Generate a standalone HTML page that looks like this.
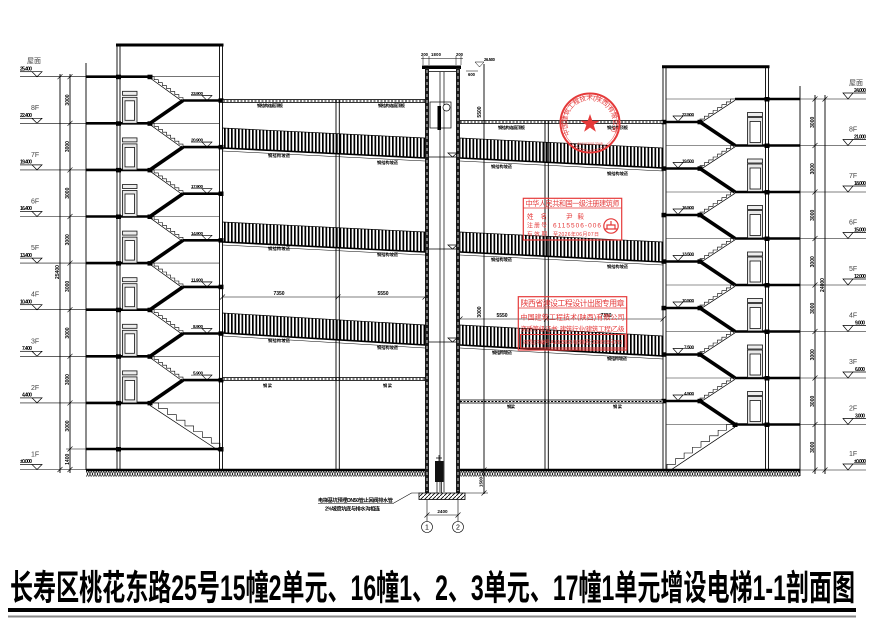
<!DOCTYPE html>
<html><head><meta charset="utf-8"><style>
html,body{margin:0;padding:0;background:#fff;}
svg{display:block;}
text{font-family:"Liberation Sans","Noto Sans CJK SC",sans-serif;}
</style></head><body>
<svg width="879" height="635" viewBox="0 0 879 635" xmlns="http://www.w3.org/2000/svg">
<defs>
<pattern id="vh" width="3.5" height="10" patternUnits="userSpaceOnUse"><rect width="1.7" height="10" fill="#000"/></pattern>
<pattern id="gx" width="5" height="6" patternUnits="userSpaceOnUse"><path d="M0,0L2.5,6L5,0M0,6L2.5,0L5,6" stroke="#000" stroke-width="0.6" fill="none"/></pattern>
<pattern id="dg" width="4" height="4" patternUnits="userSpaceOnUse"><path d="M0,4L4,0" stroke="#000" stroke-width="0.8"/></pattern>
<g id="stL">
<polyline points="0,0 4.1,0 4.1,3 8.3,3 8.3,6 12.4,6 12.4,8.9 16.5,8.9 16.5,11.9 20.6,11.9 20.6,14.9 24.8,14.9 24.8,17.9 28.9,17.9 28.9,20.8 33,20.8 33,23.8" fill="none" stroke="#000" stroke-width="0.6" vector-effect="non-scaling-stroke"/>
<line x1="0" y1="1.3" x2="33" y2="25.1" stroke="#000" stroke-width="0.7" vector-effect="non-scaling-stroke"/>
</g>
<g id="stR">
<polyline points="0,0 0,-2.9 4.4,-2.9 4.4,-5.8 8.8,-5.8 8.8,-8.6 13.1,-8.6 13.1,-11.5 17.5,-11.5 17.5,-14.4 21.9,-14.4 21.9,-17.3 26.3,-17.3 26.3,-20.1 30.6,-20.1 30.6,-23 35,-23" fill="none" stroke="#000" stroke-width="0.6" vector-effect="non-scaling-stroke"/>
<line x1="0" y1="1.3" x2="35" y2="-21.7" stroke="#000" stroke-width="0.7" vector-effect="non-scaling-stroke"/>
</g>
<g id="LF">
<line x1="86" y1="0" x2="150" y2="0" stroke="#000" stroke-width="2.6"/>
<line x1="150" y1="0" x2="219" y2="0" stroke="#222" stroke-width="0.6"/>
<use href="#stL" x="150" y="0"/>
<line x1="183" y1="23.8" x2="223" y2="23.8" stroke="#000" stroke-width="2.6"/>
<line x1="183" y1="23.8" x2="150" y2="46.6" stroke="#000" stroke-width="3.6"/>
<rect x="116" y="-2" width="5" height="4.5" fill="#000"/>
<rect x="147.5" y="-2" width="5" height="4.5" fill="#000"/>
<rect x="218.5" y="21.6" width="5" height="4.5" fill="#000"/>
<path d="M202,18.8h10l-5,5z" fill="none" stroke="#000" stroke-width="0.6"/>
<line x1="191" y1="18.8" x2="212" y2="18.8" stroke="#000" stroke-width="0.5"/>
</g>
<g id="RF">
<line x1="663" y1="23" x2="700" y2="23" stroke="#000" stroke-width="2.6"/>
<use href="#stR" x="700" y="23"/>
<line x1="700" y1="23" x2="735" y2="46.5" stroke="#000" stroke-width="3.6"/>
<line x1="735" y1="0" x2="800" y2="0" stroke="#000" stroke-width="2.6"/>
<line x1="666" y1="0" x2="735" y2="0" stroke="#222" stroke-width="0.6"/>
<rect x="661.5" y="20.8" width="5" height="4.5" fill="#000"/>
<rect x="697.5" y="20.8" width="5" height="4.5" fill="#000"/>
<rect x="764.5" y="-2" width="5" height="4.5" fill="#000"/>
<path d="M673,17h10l-5,5.5z" fill="none" stroke="#000" stroke-width="0.6"/>
<line x1="673" y1="17" x2="694" y2="17" stroke="#000" stroke-width="0.5"/>
</g>
<g id="LD" stroke="#111" stroke-width="0.8">
<rect x="122.5" y="-32" width="14.5" height="4" fill="#eee"/>
<rect x="122.5" y="-26" width="14.5" height="26" fill="#e8e8e8"/>
<rect x="125" y="-22.5" width="9.5" height="19.5" fill="#fff"/>
</g>
<g id="RD" stroke="#111" stroke-width="0.8">
<rect x="747.5" y="-33" width="15" height="4" fill="#eee"/>
<rect x="747.5" y="-28" width="15" height="27.5" fill="#e8e8e8"/>
<rect x="750" y="-24" width="10.5" height="21" fill="#fff"/>
</g>
<path id="arc" d="M570.1,134.5 A23,23 0 1 1 609.9,134.5"/>
</defs>

<rect width="879" height="635" fill="#fff"/>

<!-- ===== LEFT BUILDING ===== -->
<line x1="116" y1="45" x2="223.5" y2="45" stroke="#000" stroke-width="3"/>
<g stroke="#000" stroke-width="0.9">
<line x1="117" y1="44" x2="117" y2="470"/><line x1="120" y1="44" x2="120" y2="470"/>
<line x1="219.5" y1="44" x2="219.5" y2="470"/><line x1="222.5" y1="44" x2="222.5" y2="470"/>
<line x1="86" y1="63" x2="86" y2="470"/>
<line x1="60" y1="74" x2="60" y2="473"/>
<line x1="70" y1="74" x2="70" y2="473"/>
</g>
<use href="#LF" y="76.7"/><use href="#LF" y="123.3"/><use href="#LF" y="169.9"/><use href="#LF" y="216.5"/>
<use href="#LF" y="263.1"/><use href="#LF" y="309.7"/><use href="#LF" y="356.3"/>
<line x1="86" y1="402.9" x2="150" y2="402.9" stroke="#000" stroke-width="2.6"/>
<line x1="150" y1="402.9" x2="219" y2="402.9" stroke="#222" stroke-width="0.6"/>
<use href="#stL" transform="translate(150,402.9) scale(2.12,1.937)"/>
<rect x="116" y="400.9" width="5" height="4.5"/><rect x="147.5" y="400.9" width="5" height="4.5"/>
<line x1="86" y1="449" x2="223" y2="449" stroke="#000" stroke-width="2.6"/>
<rect x="116" y="447" width="5" height="4.5"/><rect x="218.5" y="447" width="5" height="4.5"/>
<use href="#LD" y="123.3"/><use href="#LD" y="169.9"/><use href="#LD" y="216.5"/><use href="#LD" y="263.1"/>
<use href="#LD" y="309.7"/><use href="#LD" y="356.3"/><use href="#LD" y="402.9"/>

<g stroke="#000" stroke-width="0.6">
<line x1="20" y1="76.7" x2="86" y2="76.7"/><line x1="20" y1="123.3" x2="86" y2="123.3"/>
<line x1="20" y1="169.9" x2="86" y2="169.9"/><line x1="20" y1="216.5" x2="86" y2="216.5"/>
<line x1="20" y1="263.1" x2="86" y2="263.1"/><line x1="20" y1="309.7" x2="86" y2="309.7"/>
<line x1="20" y1="356.3" x2="86" y2="356.3"/><line x1="20" y1="402.9" x2="86" y2="402.9"/>
<line x1="20" y1="469.5" x2="86" y2="469.5"/><line x1="66" y1="449" x2="86" y2="449"/>
</g>
<g fill="none" stroke="#000" stroke-width="0.7">
<path d="M32,71.7h10l-5,5z"/><path d="M32,118.3h10l-5,5z"/><path d="M32,164.9h10l-5,5z"/><path d="M32,211.5h10l-5,5z"/>
<path d="M32,258.1h10l-5,5z"/><path d="M32,304.7h10l-5,5z"/><path d="M32,351.3h10l-5,5z"/><path d="M32,397.9h10l-5,5z"/>
<path d="M32,464.5h10l-5,5z"/>
<line x1="20" y1="71.7" x2="32" y2="71.7"/><line x1="20" y1="118.3" x2="32" y2="118.3"/><line x1="20" y1="164.9" x2="32" y2="164.9"/>
<line x1="20" y1="211.5" x2="32" y2="211.5"/><line x1="20" y1="258.1" x2="32" y2="258.1"/><line x1="20" y1="304.7" x2="32" y2="304.7"/>
<line x1="20" y1="351.3" x2="32" y2="351.3"/><line x1="20" y1="397.9" x2="32" y2="397.9"/><line x1="20" y1="464.5" x2="32" y2="464.5"/>
</g>
<g font-size="5" font-weight="bold" fill="#000">
<text x="20" y="70.5" textLength="12">25.400</text><text x="20" y="117" textLength="12">22.400</text>
<text x="20" y="163.6" textLength="12">19.400</text><text x="20" y="210.2" textLength="12">16.400</text>
<text x="20" y="256.8" textLength="12">13.400</text><text x="20" y="303.4" textLength="12">10.400</text>
<text x="22" y="350" textLength="10">7.400</text><text x="22" y="396.6" textLength="10">4.400</text>
<text x="20" y="463.2" textLength="12">±0.000</text>
</g>
<g font-size="7" fill="#444">
<text x="27" y="63">屋面</text><text x="31" y="110">8F</text><text x="31" y="156.9">7F</text><text x="31" y="203.5">6F</text>
<text x="31" y="250.1">5F</text><text x="31" y="296.7">4F</text><text x="31" y="343.3">3F</text><text x="31" y="389.9">2F</text>
<text x="31" y="456.5">1F</text>
</g>
<g stroke="#000" stroke-width="0.6">
<path d="M67.5,79.2l5,-5M67.5,125.8l5,-5M67.5,172.4l5,-5M67.5,219l5,-5M67.5,265.6l5,-5M67.5,312.2l5,-5M67.5,358.8l5,-5M67.5,405.4l5,-5M67.5,451.5l5,-5M67.5,472l5,-5M57.5,79.2l5,-5M57.5,472l5,-5"/>
</g>
<g font-size="5" font-weight="bold" fill="#000" text-anchor="middle">
<text transform="translate(69,100) rotate(-90)">3000</text><text transform="translate(69,146.6) rotate(-90)">3000</text>
<text transform="translate(69,193.2) rotate(-90)">3000</text><text transform="translate(69,239.8) rotate(-90)">3000</text>
<text transform="translate(69,286.4) rotate(-90)">3000</text><text transform="translate(69,333) rotate(-90)">3000</text>
<text transform="translate(69,379.6) rotate(-90)">3000</text><text transform="translate(69,426) rotate(-90)">3000</text>
<text transform="translate(69,459.3) rotate(-90)">1400</text><text transform="translate(59,272) rotate(-90)">25400</text>
</g>
<g font-size="4.6" font-weight="bold" fill="#000">
<text x="191" y="95" textLength="12">23.900</text><text x="191" y="141.6" textLength="12">20.900</text>
<text x="191" y="188.2" textLength="12">17.900</text><text x="191" y="234.8" textLength="12">14.900</text>
<text x="191" y="281.4" textLength="12">11.900</text><text x="193" y="328" textLength="10">8.900</text>
<text x="193" y="374.6" textLength="10">5.900</text>
</g>

<!-- ===== RIGHT BUILDING ===== -->
<line x1="662" y1="66.7" x2="769.5" y2="66.7" stroke="#000" stroke-width="3"/>
<g stroke="#000" stroke-width="0.9">
<line x1="663" y1="66" x2="663" y2="470"/><line x1="666" y1="66" x2="666" y2="470"/>
<line x1="765.5" y1="66" x2="765.5" y2="470"/><line x1="768.5" y1="66" x2="768.5" y2="470"/>
<line x1="800" y1="86" x2="800" y2="476"/>
<line x1="815" y1="95" x2="815" y2="474"/>
<line x1="825" y1="95" x2="825" y2="474"/>
</g>
<use href="#RF" y="99"/><use href="#RF" y="145.5"/><use href="#RF" y="192"/><use href="#RF" y="238.5"/>
<use href="#RF" y="285"/><use href="#RF" y="331.5"/><use href="#RF" y="378"/>
<line x1="735" y1="424.5" x2="800" y2="424.5" stroke="#000" stroke-width="2.6"/>
<line x1="666" y1="424.5" x2="735" y2="424.5" stroke="#222" stroke-width="0.6"/>
<rect x="764.5" y="422.5" width="5" height="4.5"/><rect x="732.5" y="422.5" width="5" height="4.5"/>
<use href="#stR" transform="translate(667,470) scale(1.943,1.978)"/>
<use href="#RD" y="145.5"/><use href="#RD" y="192"/><use href="#RD" y="238.5"/><use href="#RD" y="285"/>
<use href="#RD" y="331.5"/><use href="#RD" y="378"/><use href="#RD" y="424.5"/>
<g stroke="#000" stroke-width="0.6">
<line x1="800" y1="99" x2="866" y2="99"/><line x1="800" y1="145.5" x2="866" y2="145.5"/><line x1="800" y1="192" x2="866" y2="192"/>
<line x1="800" y1="238.5" x2="866" y2="238.5"/><line x1="800" y1="285" x2="866" y2="285"/><line x1="800" y1="331.5" x2="866" y2="331.5"/>
<line x1="800" y1="378" x2="866" y2="378"/><line x1="800" y1="424.5" x2="866" y2="424.5"/><line x1="800" y1="470" x2="866" y2="470"/>
<path d="M812.5,101.5l5,-5M812.5,148l5,-5M812.5,194.5l5,-5M812.5,241l5,-5M812.5,287.5l5,-5M812.5,334l5,-5M812.5,380.5l5,-5M812.5,427l5,-5M812.5,472.5l5,-5M822.5,101.5l5,-5M822.5,472.5l5,-5"/>
</g>
<g fill="none" stroke="#000" stroke-width="0.7">
<path d="M843,93h10l-5,6z"/><path d="M843,139.5h10l-5,6z"/><path d="M843,186h10l-5,6z"/><path d="M843,232.5h10l-5,6z"/>
<path d="M843,279h10l-5,6z"/><path d="M843,325.5h10l-5,6z"/><path d="M843,372h10l-5,6z"/><path d="M843,418.5h10l-5,6z"/>
<path d="M843,464h10l-5,6z"/>
<path d="M853,93h13M853,139.5h13M853,186h13M853,232.5h13M853,279h13M853,325.5h13M853,372h13M853,418.5h13M853,464h13"/>
</g>
<g font-size="5" font-weight="bold" fill="#000">
<text x="854" y="92" textLength="12">24.000</text><text x="854" y="138.5" textLength="12">21.000</text>
<text x="854" y="185" textLength="12">18.000</text><text x="854" y="231.5" textLength="12">15.000</text>
<text x="854" y="278" textLength="12">12.000</text><text x="855" y="324.5" textLength="10">9.000</text>
<text x="855" y="371" textLength="10">6.000</text><text x="855" y="417.5" textLength="10">3.000</text>
<text x="854" y="463" textLength="12">±0.000</text>
</g>
<g font-size="7" fill="#444">
<text x="849" y="85">屋面</text><text x="849" y="131.5">8F</text><text x="849" y="178">7F</text><text x="849" y="224.5">6F</text>
<text x="849" y="271">5F</text><text x="849" y="317.5">4F</text><text x="849" y="364">3F</text><text x="849" y="410.5">2F</text>
<text x="849" y="456">1F</text>
</g>
<g font-size="5" font-weight="bold" fill="#000" text-anchor="middle">
<text transform="translate(814,122.3) rotate(-90)">3000</text><text transform="translate(814,168.8) rotate(-90)">3000</text>
<text transform="translate(814,215.3) rotate(-90)">3000</text><text transform="translate(814,261.8) rotate(-90)">3000</text>
<text transform="translate(814,308.3) rotate(-90)">3000</text><text transform="translate(814,354.8) rotate(-90)">3000</text>
<text transform="translate(814,401.3) rotate(-90)">3000</text><text transform="translate(814,447.3) rotate(-90)">3000</text>
<text transform="translate(824,285) rotate(-90)">24000</text>
</g>
<g font-size="4.6" font-weight="bold" fill="#000">
<text x="682" y="116" textLength="12">22.500</text><text x="682" y="162.5" textLength="12">19.500</text>
<text x="682" y="209" textLength="12">16.500</text><text x="682" y="255.5" textLength="12">13.500</text>
<text x="682" y="302" textLength="12">10.500</text><text x="684" y="348.5" textLength="10">7.500</text>
<text x="684" y="395" textLength="10">4.500</text>
</g>

<!-- ===== CORRIDORS ===== -->
<g stroke="#000" stroke-width="0.7">
<polygon points="222.5,128 425,138 425,158 222.5,148" fill="url(#vh)"/>
<polygon points="222.5,222 425,232 425,252 222.5,242" fill="url(#vh)"/>
<polygon points="222.5,313 425,325 425,345 222.5,333" fill="url(#vh)"/>
<polygon points="460,138 663,148 663,168 460,158" fill="url(#vh)"/>
<polygon points="460,232 663,242 663,262 460,252" fill="url(#vh)"/>
<polygon points="460,325 663,336 663,356 460,345" fill="url(#vh)"/>
</g>
<g stroke="#000" stroke-width="1.6">
<line x1="222.5" y1="148" x2="425" y2="158"/><line x1="222.5" y1="242" x2="425" y2="252"/><line x1="222.5" y1="333" x2="425" y2="345"/>
<line x1="460" y1="158" x2="663" y2="168"/><line x1="460" y1="252" x2="663" y2="262"/><line x1="460" y1="345" x2="663" y2="356"/>
</g>
<g stroke="#000" stroke-width="0.5">
<line x1="222.5" y1="151" x2="425" y2="161"/><line x1="222.5" y1="245" x2="425" y2="255"/><line x1="222.5" y1="336" x2="425" y2="348"/>
<line x1="460" y1="161" x2="663" y2="171"/><line x1="460" y1="255" x2="663" y2="265"/><line x1="460" y1="348" x2="663" y2="359"/>
</g>
<g>
<rect x="222.5" y="99.5" width="202.5" height="3" fill="#fff" stroke="#000" stroke-width="0.8"/>
<rect x="222.5" y="377.5" width="202.5" height="3" fill="#fff" stroke="#000" stroke-width="0.8"/>
<rect x="460" y="120.5" width="203" height="3" fill="#fff" stroke="#000" stroke-width="0.8"/>
<rect x="460" y="400" width="203" height="3" fill="#fff" stroke="#000" stroke-width="0.8"/>
<g stroke="#000" stroke-width="1" stroke-dasharray="2,1.5">
<line x1="223" y1="101" x2="425" y2="101"/><line x1="223" y1="379" x2="425" y2="379"/>
<line x1="460" y1="122" x2="663" y2="122"/><line x1="460" y1="401.5" x2="663" y2="401.5"/>
</g>
</g>
<g stroke="#000" stroke-width="0.9">
<line x1="336" y1="100" x2="336" y2="470"/><line x1="339.3" y1="100" x2="339.3" y2="470"/>
<line x1="545" y1="121" x2="545" y2="470"/><line x1="548.3" y1="121" x2="548.3" y2="470"/>
<line x1="484" y1="64" x2="484" y2="494"/>
</g>
<g stroke="#000" stroke-width="0.6">
<line x1="222.5" y1="297" x2="425" y2="297"/><line x1="460" y1="319" x2="663" y2="319"/>
<path d="M220,299.5l5,-5M335.5,299.5l5,-5M422.5,299.5l5,-5M457.5,321.5l5,-5M544,321.5l5,-5M660.5,321.5l5,-5"/>
</g>
<g font-size="5" font-weight="bold" fill="#000" text-anchor="middle">
<text x="279" y="295">7350</text><text x="383" y="295">5550</text>
<text x="502" y="317">5550</text><text x="606" y="317">7350</text>
<text transform="translate(481,112) rotate(-90)">5500</text>
<text transform="translate(481,312) rotate(-90)">3000</text>
</g>
<g font-size="4.2" font-weight="bold" fill="#000">
<text x="257" y="107" textLength="26">钢结构连廊顶板</text><text x="378" y="107" textLength="27">钢结构连廊顶板</text>
<text x="268" y="157" textLength="22">钢结构坡道</text><text x="377" y="164" textLength="21">钢结构坡道</text>
<text x="268" y="250" textLength="22">钢结构坡道</text><text x="377" y="256" textLength="21">钢结构坡道</text>
<text x="268" y="342" textLength="22">钢结构坡道</text><text x="377" y="349" textLength="21">钢结构坡道</text>
<text x="263" y="387" textLength="9">钢梁</text><text x="383" y="387" textLength="9">钢梁</text>
<text x="498" y="129" textLength="27">钢结构连廊顶板</text><text x="607" y="129" textLength="21">钢结构顶板</text>
<text x="491" y="168" textLength="21">钢结构坡道</text><text x="607" y="175" textLength="21">钢结构坡道</text>
<text x="491" y="261" textLength="21">钢结构坡道</text><text x="607" y="268" textLength="21">钢结构坡道</text>
<text x="492" y="354" textLength="20">钢结构坡道</text><text x="607" y="360" textLength="20">钢结构坡道</text>
<text x="507" y="408" textLength="8">钢梁</text><text x="613" y="408" textLength="9">钢梁</text>
</g>

<!-- ===== ELEVATOR SHAFT ===== -->
<rect x="422" y="65.5" width="39" height="3.5" fill="#000"/>
<line x1="429" y1="71.5" x2="456" y2="71.5" stroke="#000" stroke-width="0.8"/>
<rect x="425" y="68" width="4" height="425" fill="#1a1a1a"/>
<rect x="456" y="68" width="4" height="425" fill="#1a1a1a"/>
<g stroke="#fff" stroke-width="0.8" stroke-dasharray="3,3">
<line x1="427" y1="70" x2="427" y2="491"/><line x1="458" y1="70" x2="458" y2="491"/>
</g>
<g stroke="#000" stroke-width="0.7">
<line x1="440" y1="72" x2="440" y2="492"/><line x1="444" y1="72" x2="444" y2="492"/>
<line x1="429" y1="157" x2="456" y2="157"/><line x1="429" y1="249" x2="456" y2="249"/><line x1="429" y1="342" x2="456" y2="342"/>
<path d="M448,153h9l-4.5,4z M448,245h9l-4.5,4z M448,338h9l-4.5,4z" fill="none"/>
<rect x="430" y="102" width="21" height="26" fill="none"/>
<circle cx="446.5" cy="107.5" r="3.5" fill="#fff"/>
</g>
<rect x="437.5" y="106" width="3.5" height="24" fill="#000"/>
<rect x="435" y="461" width="8.5" height="21" fill="#111"/>
<path d="M436,458h6M439,455v6M437,482v11M441.5,482v11" stroke="#000" stroke-width="0.7"/>
<rect x="419" y="493" width="46" height="6.5" fill="url(#dg)" stroke="#000" stroke-width="0.8"/>
<g stroke="#000" stroke-width="0.5">
<line x1="421" y1="58.5" x2="463" y2="58.5"/>
<path d="M423,56v9M429,56v9M456,56v9M461,56v9"/>
<path d="M475,62h9l-4.5,5z" fill="none"/><line x1="466" y1="71" x2="478" y2="71"/>
</g>
<g font-size="4.2" font-weight="bold" fill="#000">
<text x="421" y="56" textLength="7">200</text><text x="431" y="56" textLength="10">1800</text><text x="456" y="56" textLength="7">200</text>
<text x="484" y="61" textLength="11">26.500</text><text x="468" y="76" textLength="7">600</text>
</g>

<rect x="86" y="471" width="339" height="5.5" fill="url(#gx)"/>
<rect x="460" y="471" width="340" height="5.5" fill="url(#gx)"/>
<line x1="86" y1="470" x2="425" y2="470" stroke="#000" stroke-width="2.4"/>
<line x1="460" y1="470" x2="800" y2="470" stroke="#000" stroke-width="2.4"/>

<g stroke="#000" stroke-width="0.6" fill="none">
<path d="M318,503.5H393L411.5,493H419"/>
<line x1="465" y1="493" x2="488" y2="493"/>
<line x1="427" y1="500" x2="427" y2="521.5"/><line x1="458" y1="500" x2="458" y2="521.5"/>
<line x1="427" y1="515" x2="458" y2="515"/>
<path d="M424.5,517.5l5,-5M455.5,517.5l5,-5M481.5,472.5l5,-5M481.5,495.5l5,-5"/>
<circle cx="427" cy="527" r="5.5"/><circle cx="458" cy="527" r="5.5"/>
</g>
<g fill="#000" font-weight="bold">
<text x="318" y="502" font-size="5.2" textLength="75">电梯基坑预埋DN50管止回阀排水管</text>
<text x="325" y="510.5" font-size="5.2" textLength="55">2%坡度坑底与排水沟相连</text>
<text x="442.5" y="513" font-size="4.6" text-anchor="middle">2400</text>
<text transform="translate(482.5,482) rotate(-90)" font-size="4.6" text-anchor="middle">1500</text>
</g>
<g font-size="7" fill="#000" text-anchor="middle">
<text x="427" y="529.5">1</text><text x="458" y="529.5">2</text>
</g>

<!-- ===== RED STAMPS ===== -->
<g fill="none" stroke="#e53a3a">
<circle cx="590" cy="123" r="29.5" stroke-width="2"/>
<circle cx="590" cy="123" r="27.3" stroke-width="0.5"/>
<rect x="523.3" y="198.3" width="98.4" height="41.7" stroke-width="1.2"/>
<line x1="523.3" y1="208" x2="621.7" y2="208" stroke-width="0.8"/>
<circle cx="611" cy="226" r="7.2" stroke-width="1.2"/>
<rect x="518.3" y="296.7" width="108.4" height="53.3" stroke-width="1.2"/>
<line x1="518.3" y1="308" x2="626.7" y2="308" stroke-width="0.8"/>
<rect x="520.5" y="334.5" width="104.5" height="13.5" stroke-width="1"/>
</g>
<polygon points="590,114 592.3,120.8 599.5,120.8 593.7,125 595.9,131.8 590,127.6 584.1,131.8 586.3,125 580.5,120.8 587.7,120.8" fill="#e53a3a"/>
<path d="M605,229h12M607,229v-4h8v4M611,221v4M606.5,225h9" stroke="#e53a3a" stroke-width="1.2" fill="none"/>
<g fill="#e53a3a">
<text font-size="6.5"><textPath href="#arc" textLength="93">中国建筑工程技术(陕西)有限公司</textPath></text>
<text x="590" y="145" font-size="3.5" text-anchor="middle">6101030012345</text>
<text x="525.5" y="206" font-size="7.2" textLength="94">中华人民共和国一级注册建筑师</text>
<text x="527" y="218.5" font-size="6.5" textLength="20">姓　名</text>
<text x="566" y="218.5" font-size="6.5" textLength="18">尹　毅</text>
<text x="527" y="227.5" font-size="6" textLength="20">注册号</text>
<text x="553" y="227.5" font-size="6.5" textLength="48">6115506-006</text>
<text x="527" y="236" font-size="5.5" textLength="20">有效期</text>
<text x="553" y="236" font-size="5" textLength="46">至2026年06月07日</text>
<text x="520.5" y="306" font-size="8" textLength="104">陕西省建设工程设计出图专用章</text>
<text x="520.5" y="319.5" font-size="7" textLength="104">中国建筑工程技术(陕西)有限公司</text>
<text x="520.5" y="331" font-size="6.5" textLength="104">资质等级证书: 建筑行业(建筑工程)乙级</text>
<text x="522.5" y="343.8" font-size="5.3" textLength="100">资质证书编号: A161035621  有效期至: 2026年08月07日</text>
</g>

<!-- ===== TITLE ===== -->
<text x="10" y="600" font-size="35" font-weight="bold" fill="#000" textLength="845" lengthAdjust="spacingAndGlyphs">长寿区桃花东路25号15幢2单元、16幢1、2、3单元、17幢1单元增设电梯1-1剖面图</text>
<rect x="8" y="608" width="848" height="4" fill="#000"/>
<rect x="8" y="615.5" width="848" height="2" fill="#888"/>
</svg>
</body></html>
